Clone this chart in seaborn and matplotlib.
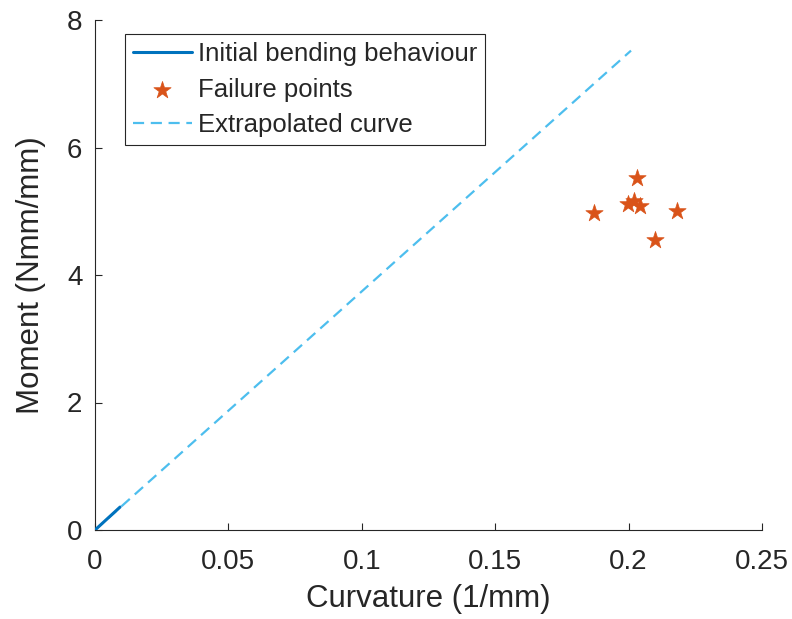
import matplotlib
matplotlib.use("Agg")
import matplotlib.pyplot as plt
import seaborn as sns
import pandas as pd

sns.set_style("white")
plt.rcParams['font.family'] = ['Liberation Sans', 'DejaVu Sans']

# Data
initial_curv = [0.0, 0.0094]
initial_moment = [0.0, 0.36]
fail_curv = [0.187, 0.1998, 0.2031, 0.2020, 0.2043, 0.210, 0.218]
fail_moment = [4.98, 5.12, 5.52, 5.16, 5.08, 4.55, 5.01]
extrap_curv = [0.0, 0.2009]
extrap_moment = [0.0, 7.52]

fig = plt.figure(figsize=(7.92, 6.19), dpi=100)
ax = fig.add_axes([95/792, 89/619, 667/792, 510/619])

sns.lineplot(x=initial_curv, y=initial_moment, ax=ax, color='#0072BD', lw=2.2,
             label='Initial bending behaviour', zorder=3)
sns.scatterplot(x=fail_curv, y=fail_moment, ax=ax, marker='*', s=170, color='#D95319',
                edgecolor='#D95319', linewidth=0.5, label='Failure points', zorder=4)
sns.lineplot(x=extrap_curv, y=extrap_moment, ax=ax, color='#4DBEEE', lw=1.6,
             linestyle=(0, (5, 3)), label='Extrapolated curve', zorder=2)

ax.set_xlim(0, 0.25)
ax.set_ylim(0, 8)
ax.set_xticks([0, 0.05, 0.1, 0.15, 0.2, 0.25])
ax.set_xticklabels(['0', '0.05', '0.1', '0.15', '0.2', '0.25'])
ax.set_yticks([0, 2, 4, 6, 8])
ax.set_xlabel('Curvature (1/mm)', fontsize=22.5, color='#262626', labelpad=6)
ax.set_ylabel('Moment (Nmm/mm)', fontsize=22.5, color='#262626', labelpad=15)
ax.tick_params(direction='in', length=5, width=0.8, labelsize=20, colors='#262626',
               bottom=True, left=True)
ax.tick_params(axis='x', pad=14)
ax.tick_params(axis='y', pad=9)
for s in ['top', 'right']:
    ax.spines[s].set_visible(False)
for s in ['left', 'bottom']:
    ax.spines[s].set_color('#262626')
    ax.spines[s].set_linewidth(0.8)

leg = ax.legend(loc='upper left', bbox_to_anchor=(0.045, 0.972), borderaxespad=0,
                fontsize=18.5, frameon=True, fancybox=False, edgecolor='#262626',
                framealpha=1, handlelength=2.3, handletextpad=0.25, borderpad=0.3,
                labelspacing=0.45)
leg.get_frame().set_linewidth(0.8)

fig.savefig('out.png', dpi=100)
